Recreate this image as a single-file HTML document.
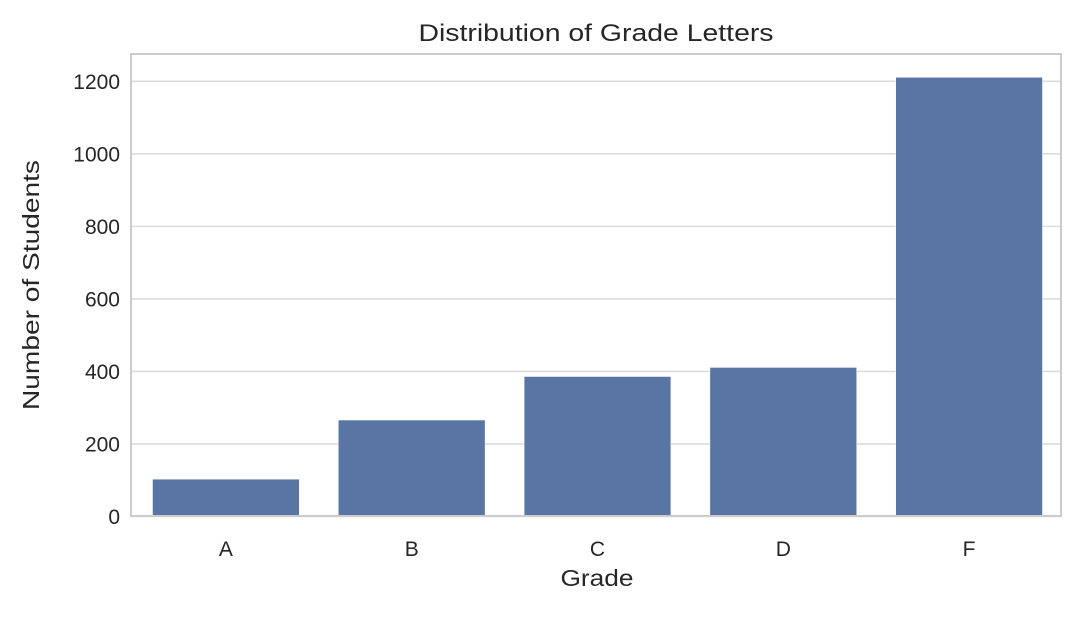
<!DOCTYPE html>
<html><head><meta charset="utf-8"><style>
body{margin:0;background:#fff;font-family:"Liberation Sans","DejaVu Sans",sans-serif}
svg text{fill:#262626}
</style></head><body>
<svg width="1070" height="616">
<text x="596" y="41" font-size="24" text-anchor="middle" textLength="355" lengthAdjust="spacingAndGlyphs">Distribution of Grade Letters</text>
<g id="grid"></g>
<g id="bars"></g>
<rect x="131" y="54" width="930" height="462" fill="none" stroke="#cccccc" stroke-width="2"/>
<g id="yt"></g><g id="xt"></g>
<text x="597" y="586" font-size="23" text-anchor="middle" textLength="73" lengthAdjust="spacingAndGlyphs">Grade</text>
<text transform="translate(39,285) rotate(-90)" font-size="23" text-anchor="middle" textLength="250" lengthAdjust="spacingAndGlyphs">Number of Students</text>
</svg>
<script>
const categories=["A","B","C","D","F"];
const values=[103,266,386,411,1211];
const yTicks=[0,200,400,600,800,1000,1200];
const L=133,R=1062,Y0=516.5,pxPer=(516.5-81.3)/1200;
const y=v=>Y0-v*pxPer;
const band=(R-L)/categories.length;
const x=i=>L+band*i;
const NS="http://www.w3.org/2000/svg";
function mk(t,a,p){const e=document.createElementNS(NS,t);for(const k in a)e.setAttribute(k,a[k]);p.appendChild(e);return e;}
const g=document.getElementById('grid'),yt=document.getElementById('yt'),bars=document.getElementById('bars'),xt=document.getElementById('xt');
yTicks.forEach(v=>{
 const l=mk('line',{x1:131,x2:1061,y1:y(v),y2:y(v),stroke:'#dcdcdc','stroke-width':1.6},g);
 
 
 const t=mk('text',{x:120,y:y(v)+7.5,'font-size':21,'text-anchor':'end'},yt);
 t.textContent=v;
 
 
});
categories.forEach((c,i)=>{
 const w=band*0.79;
 const r=mk('rect',{x:x(i)+(band-w)/2,y:y(values[i]),width:w,height:Y0-y(values[i]),fill:'#5975a4',stroke:'#ffffff','stroke-width':0.5},bars);
 
 
 const t=mk('text',{x:x(i)+band/2,y:556,'font-size':21,'text-anchor':'middle'},xt);
 t.textContent=c;
 
 
});
</script>
</body></html>
